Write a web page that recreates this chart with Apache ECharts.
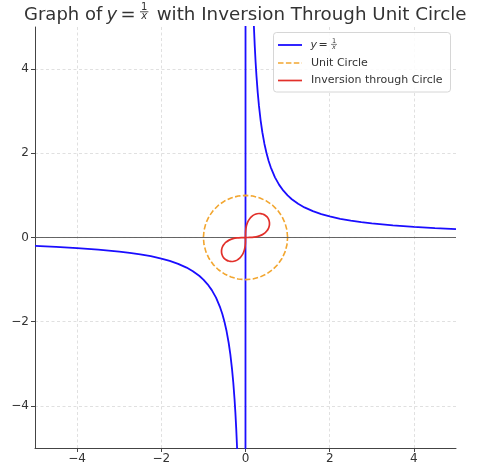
<!DOCTYPE html>
<html><head><meta charset="utf-8">
<script src="https://cdn.jsdelivr.net/npm/echarts@6/dist/echarts.min.js"></script>
<style>html,body{margin:0;padding:0;background:#fff}#c{width:484px;height:466px}</style>
</head><body><div id="c"></div>
<script>
// Tick values
const xTicks = [-4, -2, 0, 2, 4];
const yTicks = [-4, -2, 0, 2, 4];

// y = 1/x (left branch, jump through 0, right branch)
const recipX = [-5, -4.5, -4, -3.5, -3, -2.75, -2.5, -2.25, -2, -1.8, -1.6, -1.4, -1.25, -1.1, -1, -0.9, -0.8, -0.7, -0.6, -0.55, -0.5, -0.45, -0.4, -0.36, -0.32, -0.29, -0.26, -0.24, -0.22, -0.2, -0.18, -0.15,
  -0.01, 0.01,
  0.15, 0.18, 0.2, 0.22, 0.24, 0.26, 0.29, 0.32, 0.36, 0.4, 0.45, 0.5, 0.55, 0.6, 0.7, 0.8, 0.9, 1, 1.1, 1.25, 1.4, 1.6, 1.8, 2, 2.25, 2.5, 2.75, 3, 3.5, 4, 4.5, 5];
const recipY = [-0.2, -0.2222, -0.25, -0.2857, -0.3333, -0.3636, -0.4, -0.4444, -0.5, -0.5556, -0.625, -0.7143, -0.8, -0.9091, -1, -1.1111, -1.25, -1.4286, -1.6667, -1.8182, -2, -2.2222, -2.5, -2.7778, -3.125, -3.4483, -3.8462, -4.1667, -4.5455, -5, -5.5556, -6.6667,
  -100, 100,
  6.6667, 5.5556, 5, 4.5455, 4.1667, 3.8462, 3.4483, 3.125, 2.7778, 2.5, 2.2222, 2, 1.8182, 1.6667, 1.4286, 1.25, 1.1111, 1, 0.9091, 0.8, 0.7143, 0.625, 0.5556, 0.5, 0.4444, 0.4, 0.3636, 0.3333, 0.2857, 0.25, 0.2222, 0.2];

// Unit circle
const circleX = [1, 0.9848, 0.9397, 0.866, 0.766, 0.6428, 0.5, 0.342, 0.1736, 0, -0.1736, -0.342, -0.5, -0.6428, -0.766, -0.866, -0.9397, -0.9848, -1, -0.9848, -0.9397, -0.866, -0.766, -0.6428, -0.5, -0.342, -0.1736, 0, 0.1736, 0.342, 0.5, 0.6428, 0.766, 0.866, 0.9397, 0.9848, 1];
const circleY = [0, 0.1736, 0.342, 0.5, 0.6428, 0.766, 0.866, 0.9397, 0.9848, 1, 0.9848, 0.9397, 0.866, 0.766, 0.6428, 0.5, 0.342, 0.1736, 0, -0.1736, -0.342, -0.5, -0.6428, -0.766, -0.866, -0.9397, -0.9848, -1, -0.9848, -0.9397, -0.866, -0.766, -0.6428, -0.5, -0.342, -0.1736, 0];

// Inversion of y = 1/x through the unit circle (figure-eight)
const invX = [0, 0.001, 0.008, 0.0268, 0.0624, 0.1176, 0.1524, 0.1912, 0.233, 0.2766, 0.3205, 0.3632, 0.4035, 0.4402, 0.4725, 0.5,
  0.5236, 0.5434, 0.5585, 0.5675, 0.5697, 0.5645, 0.5516, 0.5312, 0.5039, 0.4706, 0.39, 0.2976, 0.1997, 0.1, 0,
  -0.001, -0.008, -0.0268, -0.0624, -0.1176, -0.1524, -0.1912, -0.233, -0.2766, -0.3205, -0.3632, -0.4035, -0.4402, -0.4725, -0.5,
  -0.5236, -0.5434, -0.5585, -0.5675, -0.5697, -0.5645, -0.5516, -0.5312, -0.5039, -0.4706, -0.39, -0.2976, -0.1997, -0.1, 0];
const invY = [0, 0.1, 0.1997, 0.2976, 0.39, 0.4706, 0.5039, 0.5312, 0.5516, 0.5645, 0.5697, 0.5675, 0.5585, 0.5434, 0.5236, 0.5,
  0.4725, 0.4402, 0.4035, 0.3632, 0.3205, 0.2766, 0.233, 0.1912, 0.1524, 0.1176, 0.0624, 0.0268, 0.008, 0.001, 0,
  -0.1, -0.1997, -0.2976, -0.39, -0.4706, -0.5039, -0.5312, -0.5516, -0.5645, -0.5697, -0.5675, -0.5585, -0.5434, -0.5236, -0.5,
  -0.4725, -0.4402, -0.4035, -0.3632, -0.3205, -0.2766, -0.233, -0.1912, -0.1524, -0.1176, -0.0624, -0.0268, -0.008, -0.001, 0];

const zip = (a, b) => a.map((v, i) => [v, b[i]]);
const FONT = "'DejaVu Sans', sans-serif";
const minus = v => String(v).replace('-', '\u2212');

const chart = echarts.init(document.getElementById('c'), null, { renderer: 'canvas' });

const axisCommon = {
  type: 'value', min: -5, max: 5,
  axisLine: { onZero: false, lineStyle: { color: '#444', width: 1 } },
  axisTick: { show: true, length: 4, lineStyle: { color: '#444', width: 1 } },
  axisLabel: { color: '#333', fontSize: 12, fontFamily: FONT, formatter: minus },
  splitLine: { show: true, lineStyle: { color: '#d8d8d8', width: 0.8, type: [3, 2.5] } }
};

const titleY = 15;
const legY = [45, 63, 80.5];
const TF = 18;

chart.setOption({
  animation: false,
  grid: { left: 35, right: 28, top: 27, bottom: 18, containLabel: false },
  xAxis: Object.assign({}, axisCommon, {
    position: 'bottom',
    axisTick: Object.assign({}, axisCommon.axisTick, { customValues: xTicks }),
    axisLabel: Object.assign({}, axisCommon.axisLabel, { customValues: xTicks, margin: 5 })
  }),
  yAxis: Object.assign({}, axisCommon, {
    position: 'left',
    axisTick: Object.assign({}, axisCommon.axisTick, { customValues: yTicks }),
    axisLabel: Object.assign({}, axisCommon.axisLabel, { customValues: yTicks, margin: 6 })
  }),
  series: [
    {
      type: 'line', data: [], silent: true,
      markLine: {
        silent: true, symbol: 'none', label: { show: false },
        lineStyle: { color: '#555', width: 0.9, type: 'solid' },
        data: [{ yAxis: 0 }]
      }
    },
    {
      name: 'y = 1/x', type: 'line', data: zip(recipX, recipY), showSymbol: false, clip: true,
      lineStyle: { color: '#1a0dff', width: 1.8 }, z: 3
    },
    {
      name: 'Unit Circle', type: 'line', data: zip(circleX, circleY), showSymbol: false,
      lineStyle: { color: '#f2a630', width: 1.6, type: [5.5, 2.4] }, z: 4
    },
    {
      name: 'Inversion through Circle', type: 'line', data: zip(invX, invY), showSymbol: false, smooth: 0.2,
      lineStyle: { color: '#e2302a', width: 1.7 }, z: 5
    }
  ],
  graphic: [
    // Title
    { type: 'text', x: 24, y: titleY, style: { text: 'Graph of', font: `${TF}px ${FONT}`, fill: '#333', verticalAlign: 'middle', align: 'left' } },
    { type: 'text', x: 106.5, y: titleY, style: { text: 'y', font: `italic ${TF}px ${FONT}`, fill: '#333', verticalAlign: 'middle', align: 'left' } },
    { type: 'text', x: 128, y: titleY + 0.3, style: { text: '=', font: `${TF}px ${FONT}`, fill: '#333', verticalAlign: 'middle', align: 'center' } },
    { type: 'text', x: 144.2, y: 7.6, style: { text: '1', font: `10px ${FONT}`, fill: '#333', verticalAlign: 'middle', align: 'center' } },
    { type: 'line', shape: { x1: 140, y1: 11.8, x2: 148.4, y2: 11.8 }, style: { stroke: '#333', lineWidth: 0.9 } },
    { type: 'text', x: 144.2, y: 16.6, style: { text: 'x', font: `italic 10px ${FONT}`, fill: '#333', verticalAlign: 'middle', align: 'center' } },
    { type: 'text', x: 466.5, y: titleY, style: { text: 'with Inversion Through Unit Circle', font: `18.25px ${FONT}`, fill: '#333', verticalAlign: 'middle', align: 'right' } },
    // Legend
    { type: 'rect', shape: { x: 273.5, y: 32.5, width: 177, height: 59.5, r: 3 }, style: { fill: 'rgba(255,255,255,0.85)', stroke: '#cccccc', lineWidth: 0.8 }, z: 100 },
    { type: 'line', shape: { x1: 278, y1: legY[0], x2: 302, y2: legY[0] }, style: { stroke: '#1a0dff', lineWidth: 1.8 }, z: 101 },
    { type: 'line', shape: { x1: 278, y1: legY[1], x2: 302, y2: legY[1] }, style: { stroke: '#f2a630', lineWidth: 1.6, lineDash: [5.5, 2.4] }, z: 101 },
    { type: 'line', shape: { x1: 278, y1: legY[2], x2: 302, y2: legY[2] }, style: { stroke: '#e2302a', lineWidth: 1.7 }, z: 101 },
    { type: 'text', x: 310.5, y: legY[0], style: { text: 'y', font: `italic 11px ${FONT}`, fill: '#333', verticalAlign: 'middle', align: 'left' }, z: 101 },
    { type: 'text', x: 323, y: legY[0] + 0.3, style: { text: '=', font: `11px ${FONT}`, fill: '#333', verticalAlign: 'middle', align: 'center' }, z: 101 },
    { type: 'text', x: 334, y: legY[0] - 3.6, style: { text: '1', font: `6.5px ${FONT}`, fill: '#333', verticalAlign: 'middle', align: 'center' }, z: 101 },
    { type: 'line', shape: { x1: 331, y1: legY[0] - 0.6, x2: 337, y2: legY[0] - 0.6 }, style: { stroke: '#333', lineWidth: 0.6 }, z: 101 },
    { type: 'text', x: 334, y: legY[0] + 2.6, style: { text: 'x', font: `italic 6.5px ${FONT}`, fill: '#333', verticalAlign: 'middle', align: 'center' }, z: 101 },
    { type: 'text', x: 311, y: legY[1], style: { text: 'Unit Circle', font: `11px ${FONT}`, fill: '#333', verticalAlign: 'middle', align: 'left' }, z: 101 },
    { type: 'text', x: 311, y: legY[2], style: { text: 'Inversion through Circle', font: `11px ${FONT}`, fill: '#333', verticalAlign: 'middle', align: 'left' }, z: 101 }
  ]
});
</script>
</body></html>
